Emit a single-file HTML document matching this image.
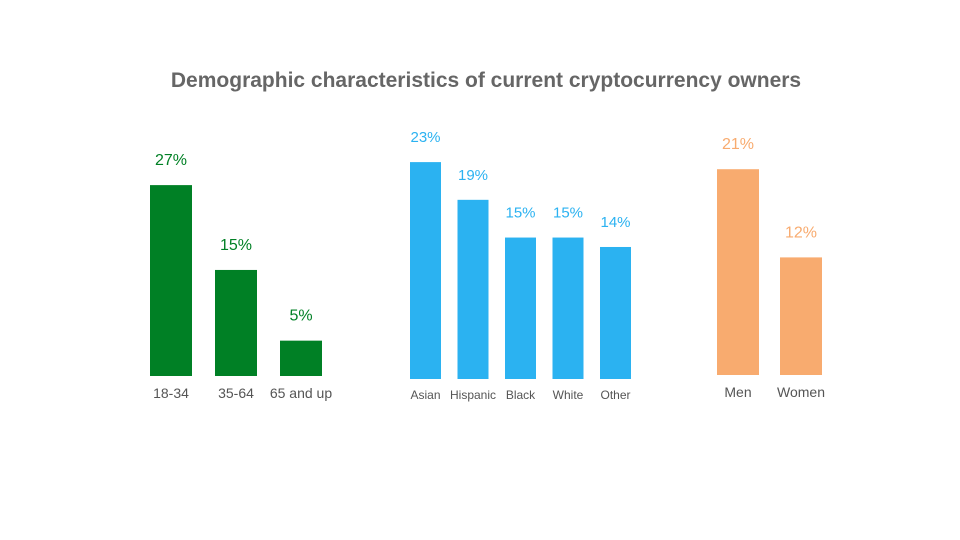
<!DOCTYPE html>
<html><head><meta charset="utf-8"><style>
body{margin:0;background:#fff;}
svg{display:block;font-family:"Liberation Sans","DejaVu Sans",sans-serif;}
</style></head><body>
<svg id="c" width="960" height="540">
<text x="486" y="87" text-anchor="middle" font-size="21" font-weight="bold" fill="#666">Demographic characteristics of current cryptocurrency owners</text>
</svg>
<script>
const ageCats=["18-34","35-64","65 and up"];
const ageVals=[27,15,5];
const raceCats=["Asian","Hispanic","Black","White","Other"];
const raceVals=[23,19,15,15,14];
const genderCats=["Men","Women"];
const genderVals=[21,12];
const NS="http://www.w3.org/2000/svg";
const svg=document.getElementById('c');
function panel(name,cats,vals,x0,step,bw,base,scale,color,labFs,catFs,catY){
  const g=document.createElementNS(NS,'g');
  
  
  svg.appendChild(g);
  cats.forEach((c,i)=>{
    const x=x0+i*step, h=vals[i]*scale, y=base-h;
    const r=document.createElementNS(NS,'rect');
    r.setAttribute('x',x);r.setAttribute('y',y);r.setAttribute('width',bw);r.setAttribute('height',h);r.setAttribute('fill',color);
    
    
    g.appendChild(r);
    const t=document.createElementNS(NS,'text');
    t.setAttribute('x',x+bw/2);t.setAttribute('y',y-20);t.setAttribute('text-anchor','middle');t.setAttribute('font-size',labFs);t.setAttribute('fill',color);
    t.textContent=vals[i]+'%';
    
    
    g.appendChild(t);
    const l=document.createElementNS(NS,'text');
    l.setAttribute('x',x+bw/2);l.setAttribute('y',catY);l.setAttribute('text-anchor','middle');l.setAttribute('font-size',catFs);l.setAttribute('fill','#555');
    l.textContent=c;
    
    
    g.appendChild(l);
  });
}
panel('age-chart',ageCats,ageVals,150,65,42,376,7.07,'#008025',16,14,398);
panel('race-chart',raceCats,raceVals,410,47.5,31,379,9.43,'#2bb2f1',15,12,399);
panel('gender-chart',genderCats,genderVals,717,63,42,375,9.8,'#f8ab6f',16,14,397);
</script>
</body></html>
